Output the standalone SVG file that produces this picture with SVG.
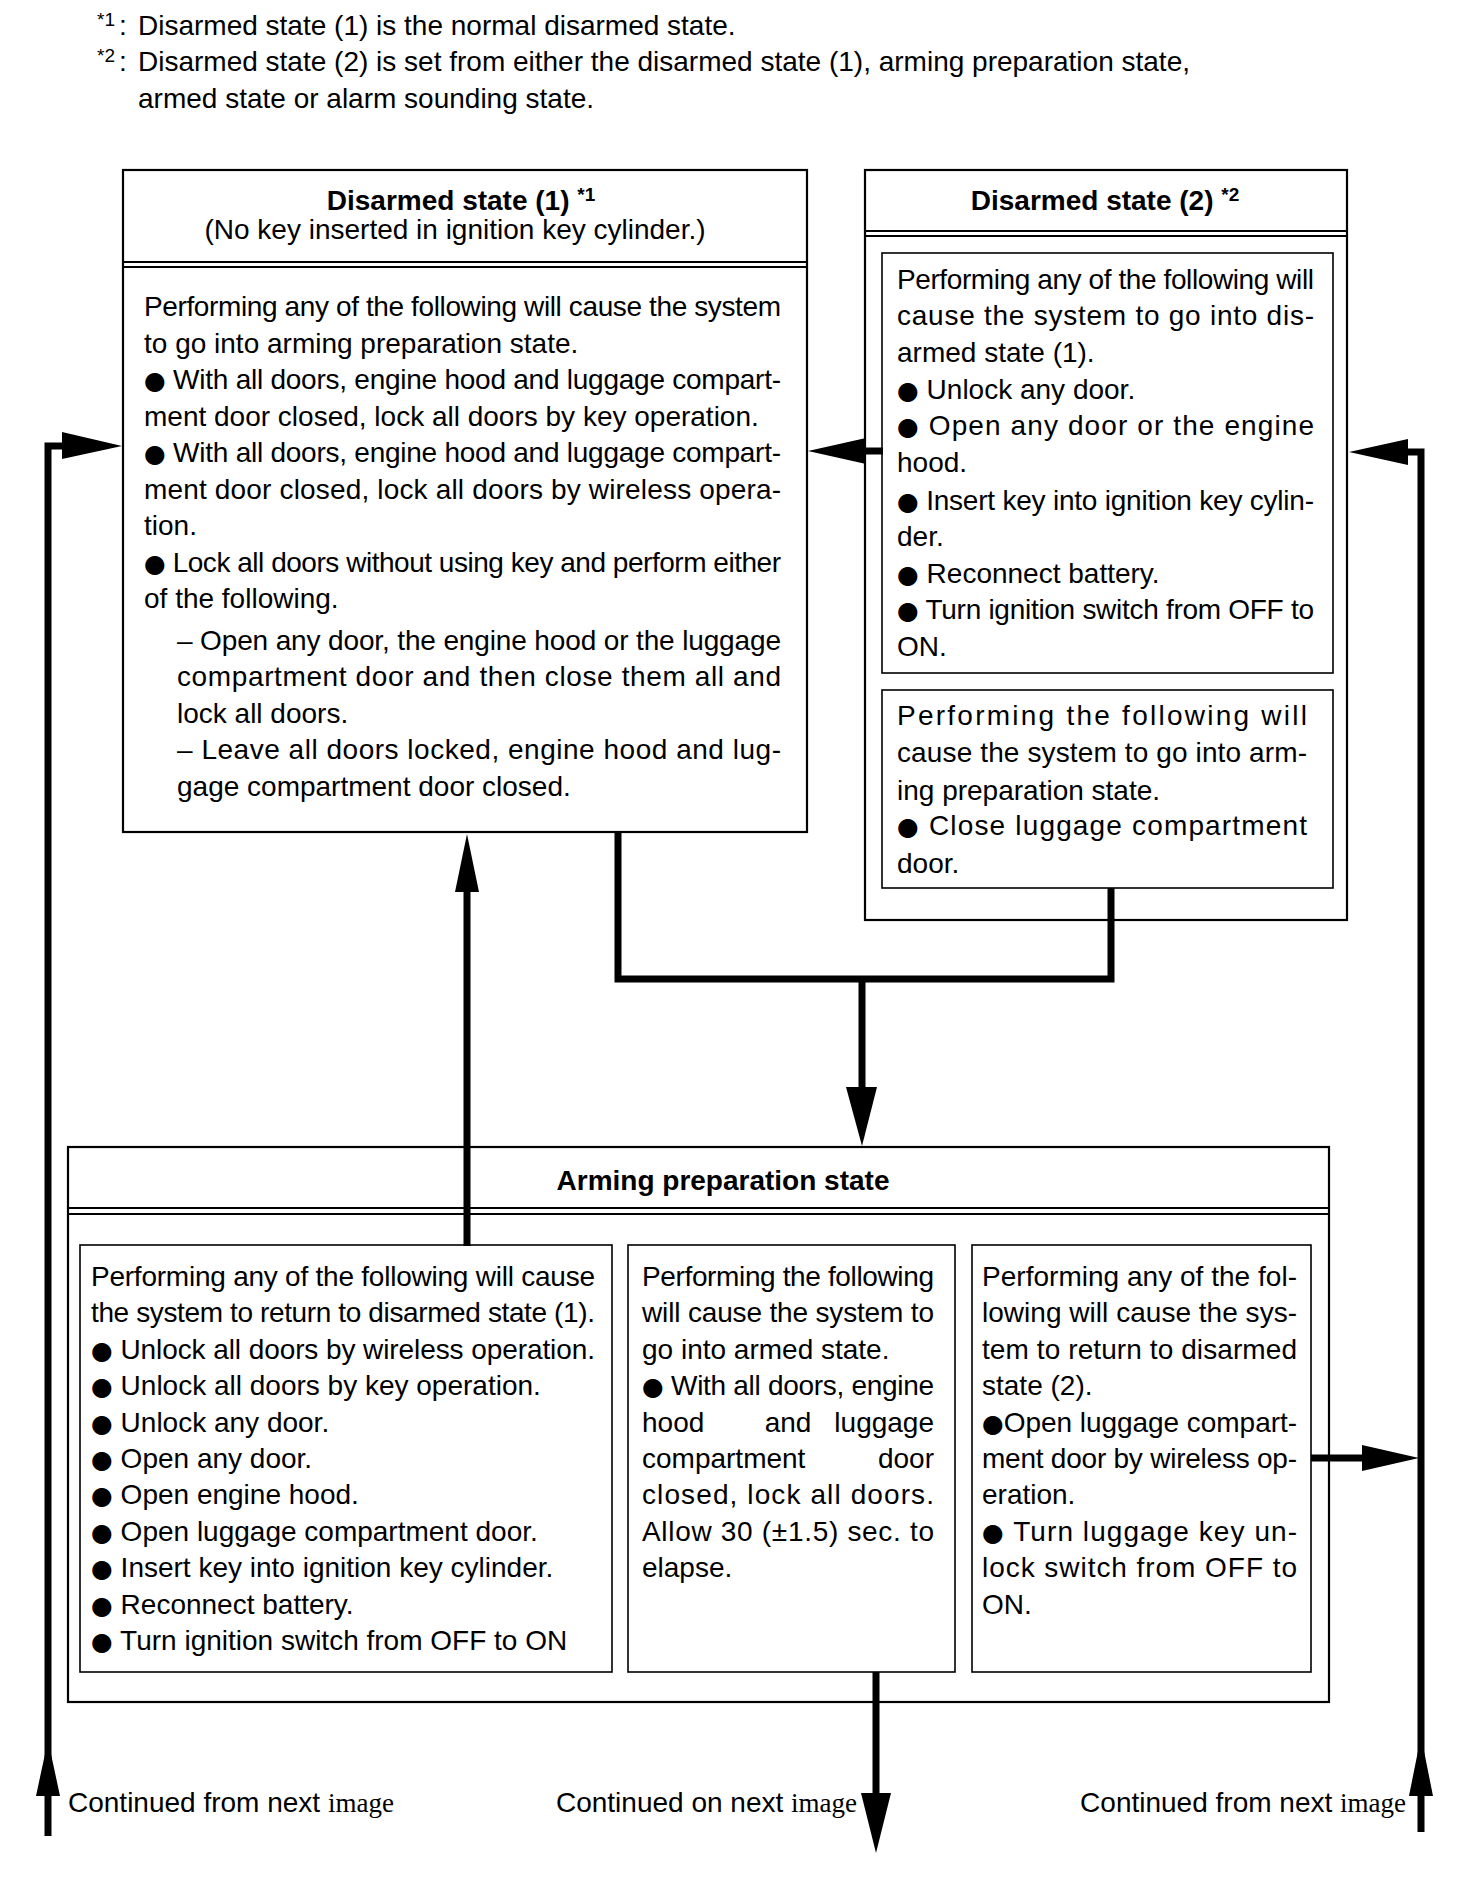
<svg xmlns="http://www.w3.org/2000/svg" width="1472" height="1878" viewBox="0 0 1472 1878">
<style>
text{font-family:"Liberation Sans",Arial,sans-serif;font-size:28px;fill:#000}
.b{font-weight:bold}
.sup{font-size:19px}
.bl{font-family:"DejaVu Sans",sans-serif;font-size:25px}
.serif{font-family:"Liberation Serif","Times New Roman",serif;font-size:27px}
.box{fill:none;stroke:#000;stroke-width:2.2}
.inner{fill:none;stroke:#000;stroke-width:1.6}
.sep{stroke:#000;stroke-width:2.2}
.conn{fill:none;stroke:#000;stroke-width:7;stroke-linejoin:miter;stroke-linecap:butt}
.head{fill:#000;stroke:none}
</style>
<rect width="1472" height="1878" fill="#fff"/>

<g id="footnotes">
<text x="97" y="26" class="sup">*1</text>
<text x="119" y="35">:</text>
<text x="138" y="35">Disarmed state (1) is the normal disarmed state.</text>
<text x="97" y="62" class="sup">*2</text>
<text x="119" y="71">:</text>
<text x="138" y="71">Disarmed state (2) is set from either the disarmed state (1), arming preparation state,</text>
<text x="138" y="108">armed state or alarm sounding state.</text>
</g>

<g id="disarmed1">
<rect class="box" x="123" y="170" width="684" height="662"/>
<line class="sep" x1="123" y1="262" x2="807" y2="262"/>
<line class="sep" x1="123" y1="267" x2="807" y2="267"/>
<text class="b" x="461" y="210" text-anchor="middle">Disarmed state (1) <tspan class="sup" dy="-9">*1</tspan></text>
<text x="455" y="239" text-anchor="middle">(No key inserted in ignition key cylinder.)</text>
<text x="144" y="316" textLength="637" lengthAdjust="spacing">Performing any of the following will cause the system</text>
<text x="144" y="353">to go into arming preparation state.</text>
<text x="144" y="389" textLength="637" lengthAdjust="spacing"><tspan class="bl">●</tspan> With all doors, engine hood and luggage compart-</text>
<text x="144" y="426">ment door closed, lock all doors by key operation.</text>
<text x="144" y="462" textLength="637" lengthAdjust="spacing"><tspan class="bl">●</tspan> With all doors, engine hood and luggage compart-</text>
<text x="144" y="499" textLength="637" lengthAdjust="spacing">ment door closed, lock all doors by wireless opera-</text>
<text x="144" y="535">tion.</text>
<text x="144" y="572" textLength="637" lengthAdjust="spacing"><tspan class="bl">●</tspan> Lock all doors without using key and perform either</text>
<text x="144" y="608">of the following.</text>
<text x="177" y="650" textLength="604" lengthAdjust="spacing">– Open any door, the engine hood or the luggage</text>
<text x="177" y="686" textLength="604" lengthAdjust="spacing">compartment door and then close them all and</text>
<text x="177" y="723">lock all doors.</text>
<text x="177" y="759" textLength="604" lengthAdjust="spacing">– Leave all doors locked, engine hood and lug-</text>
<text x="177" y="796">gage compartment door closed.</text>
</g>

<g id="disarmed2">
<rect class="box" x="865" y="170" width="482" height="750"/>
<line class="sep" x1="865" y1="231" x2="1347" y2="231"/>
<line class="sep" x1="865" y1="236" x2="1347" y2="236"/>
<text class="b" x="1105" y="210" text-anchor="middle">Disarmed state (2) <tspan class="sup" dy="-9">*2</tspan></text>
<rect class="inner" x="882" y="253" width="451" height="420"/>
<text x="897" y="289" textLength="417" lengthAdjust="spacing">Performing any of the following will</text>
<text x="897" y="325" textLength="417" lengthAdjust="spacing">cause the system to go into dis-</text>
<text x="897" y="362">armed state (1).</text>
<text x="897" y="399"><tspan class="bl">●</tspan> Unlock any door.</text>
<text x="897" y="435" textLength="417" lengthAdjust="spacing"><tspan class="bl">●</tspan> Open any door or the engine</text>
<text x="897" y="472">hood.</text>
<text x="897" y="510" textLength="417" lengthAdjust="spacing"><tspan class="bl">●</tspan> Insert key into ignition key cylin-</text>
<text x="897" y="546">der.</text>
<text x="897" y="583"><tspan class="bl">●</tspan> Reconnect battery.</text>
<text x="897" y="619" textLength="417" lengthAdjust="spacing"><tspan class="bl">●</tspan> Turn ignition switch from OFF to</text>
<text x="897" y="656">ON.</text>
<rect class="inner" x="882" y="690" width="451" height="198"/>
<text x="897" y="725" textLength="410" lengthAdjust="spacing">Performing the following will</text>
<text x="897" y="762" textLength="410" lengthAdjust="spacing">cause the system to go into arm-</text>
<text x="897" y="800">ing preparation state.</text>
<text x="897" y="835" textLength="410" lengthAdjust="spacing"><tspan class="bl">●</tspan> Close luggage compartment</text>
<text x="897" y="873">door.</text>
</g>

<g id="arming">
<rect class="box" x="68" y="1147" width="1261" height="555"/>
<line class="sep" x1="68" y1="1208" x2="1329" y2="1208"/>
<line class="sep" x1="68" y1="1214" x2="1329" y2="1214"/>
<text class="b" x="723" y="1190" text-anchor="middle">Arming preparation state</text>

<rect class="inner" x="80" y="1245" width="532" height="427"/>
<text x="91" y="1286" textLength="504" lengthAdjust="spacing">Performing any of the following will cause</text>
<text x="91" y="1322" textLength="504" lengthAdjust="spacing">the system to return to disarmed state (1).</text>
<text x="91" y="1359" textLength="504" lengthAdjust="spacing"><tspan class="bl">●</tspan> Unlock all doors by wireless operation.</text>
<text x="91" y="1395"><tspan class="bl">●</tspan> Unlock all doors by key operation.</text>
<text x="91" y="1432"><tspan class="bl">●</tspan> Unlock any door.</text>
<text x="91" y="1468"><tspan class="bl">●</tspan> Open any door.</text>
<text x="91" y="1504"><tspan class="bl">●</tspan> Open engine hood.</text>
<text x="91" y="1541"><tspan class="bl">●</tspan> Open luggage compartment door.</text>
<text x="91" y="1577"><tspan class="bl">●</tspan> Insert key into ignition key cylinder.</text>
<text x="91" y="1614"><tspan class="bl">●</tspan> Reconnect battery.</text>
<text x="91" y="1650"><tspan class="bl">●</tspan> Turn ignition switch from OFF to ON</text>

<rect class="inner" x="628" y="1245" width="327" height="427"/>
<text x="642" y="1286" textLength="292" lengthAdjust="spacing">Performing the following</text>
<text x="642" y="1322" textLength="292" lengthAdjust="spacing">will cause the system to</text>
<text x="642" y="1359">go into armed state.</text>
<text x="642" y="1395" textLength="292" lengthAdjust="spacing"><tspan class="bl">●</tspan> With all doors, engine</text>
<text y="1432"><tspan x="642">hood</tspan><tspan x="788" text-anchor="middle">and</tspan><tspan x="934" text-anchor="end">luggage</tspan></text>
<text y="1468"><tspan x="642">compartment</tspan><tspan x="934" text-anchor="end">door</tspan></text>
<text x="642" y="1504" textLength="292" lengthAdjust="spacing">closed, lock all doors.</text>
<text x="642" y="1541" textLength="292" lengthAdjust="spacing">Allow 30 (±1.5) sec. to</text>
<text x="642" y="1577">elapse.</text>

<rect class="inner" x="972" y="1245" width="339" height="427"/>
<text x="982" y="1286" textLength="315" lengthAdjust="spacing">Performing any of the fol-</text>
<text x="982" y="1322" textLength="315" lengthAdjust="spacing">lowing will cause the sys-</text>
<text x="982" y="1359" textLength="315" lengthAdjust="spacing">tem to return to disarmed</text>
<text x="982" y="1395">state (2).</text>
<text x="982" y="1432" textLength="315" lengthAdjust="spacing"><tspan class="bl">●</tspan>Open luggage compart-</text>
<text x="982" y="1468" textLength="315" lengthAdjust="spacing">ment door by wireless op-</text>
<text x="982" y="1504">eration.</text>
<text x="982" y="1541" textLength="315" lengthAdjust="spacing"><tspan class="bl">●</tspan> Turn luggage key un-</text>
<text x="982" y="1577" textLength="315" lengthAdjust="spacing">lock switch from OFF to</text>
<text x="982" y="1614">ON.</text>
</g>

<g id="continuations">
<text x="68" y="1812">Continued from next <tspan class="serif">image</tspan></text>
<text x="857" y="1812" text-anchor="end">Continued on next <tspan class="serif">image</tspan></text>
<text x="1406" y="1812" text-anchor="end">Continued from next <tspan class="serif">image</tspan></text>
</g>

<g id="connectors">
<path class="conn" d="M48,1836 V446 H66"/>
<polygon class="head" points="62,432 122,446 62,459"/>
<polygon class="head" points="36,1796 48,1740 60,1796"/>

<path class="conn" d="M1421,1832 V452 H1404"/>
<polygon class="head" points="1408,439 1349,452 1408,465"/>
<polygon class="head" points="1409,1796 1421,1736 1433,1796"/>

<path class="conn" d="M1311,1458 H1366"/>
<polygon class="head" points="1362,1445 1419,1458 1362,1471"/>

<path class="conn" d="M883,451 H862"/>
<polygon class="head" points="866,438 808,451 866,464"/>

<path class="conn" d="M618,833 V979 H1111 V888"/>
<path class="conn" d="M862,979 V1090"/>
<polygon class="head" points="846,1087 862,1146 877,1087"/>

<path class="conn" d="M467,1246 V890"/>
<polygon class="head" points="455,892 467,834 479,892"/>

<path class="conn" d="M876,1672 V1796"/>
<polygon class="head" points="861,1793 876,1853 891,1793"/>
</g>
</svg>
